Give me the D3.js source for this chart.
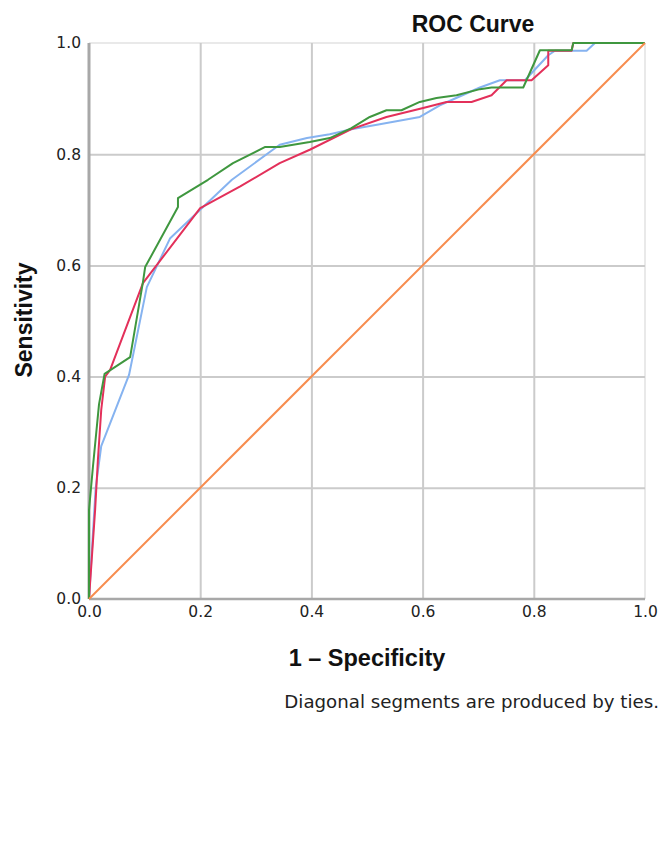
<!DOCTYPE html>
<html><head><meta charset="utf-8">
<script src="https://cdn.jsdelivr.net/npm/d3@7"></script>
<style>
html,body{margin:0;padding:0;background:#fff;}
svg{display:block;}
</style></head>
<body>
<svg id="chart" width="661" height="861"></svg>
<script>
// ---- Data ----
const ticks = [0.0, 0.2, 0.4, 0.6, 0.8, 1.0];
const tickLabels = ["0.0", "0.2", "0.4", "0.6", "0.8", "1.0"];

const blueX  = [0,0.012,0.022,0.072,0.104,0.146,0.200,0.257,0.343,0.392,0.433,0.472,0.523,0.595,0.631,0.703,0.739,0.784,0.826,0.838,0.895,0.910,1];
const blueY  = [0,0.200,0.275,0.403,0.561,0.649,0.700,0.754,0.817,0.829,0.836,0.845,0.854,0.867,0.888,0.920,0.933,0.933,0.978,0.986,0.986,1.000,1];

const redX   = [0,0.011,0.016,0.022,0.029,0.038,0.097,0.200,0.272,0.343,0.397,0.472,0.535,0.601,0.643,0.688,0.724,0.751,0.796,0.826,0.826,0.868,0.871,1];
const redY   = [0,0.160,0.250,0.340,0.400,0.412,0.568,0.703,0.742,0.784,0.808,0.845,0.867,0.883,0.894,0.894,0.906,0.933,0.933,0.960,0.986,0.986,1.000,1];

const greenX = [0,0.000,0.007,0.018,0.028,0.074,0.097,0.101,0.160,0.160,0.214,0.259,0.317,0.343,0.397,0.433,0.472,0.505,0.535,0.562,0.595,0.625,0.661,0.703,0.724,0.781,0.811,0.868,0.871,1];
const greenY = [0,0.160,0.237,0.350,0.405,0.435,0.570,0.597,0.705,0.721,0.754,0.784,0.813,0.813,0.822,0.829,0.847,0.867,0.879,0.879,0.894,0.901,0.906,0.917,0.920,0.920,0.987,0.987,1.000,1];

const refX = [0, 1];
const refY = [0, 1];

const seriesNames  = ["blue", "red", "green", "reference"];
const seriesColors = ["#86b3f0", "#e3305a", "#3f973f", "#f78c4e"];

// ---- Layout ----
const svg = d3.select("#chart");
const L = 89, T = 43, W = 556, H = 556;
const x = d3.scaleLinear().domain([0, 1]).range([L, L + W]);
const y = d3.scaleLinear().domain([0, 1]).range([T + H, T]);

// frame top/right
svg.append("line").attr("x1", L).attr("x2", L + W).attr("y1", T).attr("y2", T)
  .attr("stroke", "#e2e2e2").attr("stroke-width", 1.5);
svg.append("line").attr("x1", L + W).attr("x2", L + W).attr("y1", T).attr("y2", T + H)
  .attr("stroke", "#e2e2e2").attr("stroke-width", 1.5);

// gridlines
const gx = svg.append("g").attr("transform", `translate(0,${T + H})`)
  .call(d3.axisBottom(x).tickValues(ticks.slice(1, -1)).tickSize(-H).tickFormat(""));
gx.select(".domain").remove();
gx.selectAll("line").attr("stroke", "#cbcbcb").attr("stroke-width", 2);

const gy = svg.append("g").attr("transform", `translate(${L},0)`)
  .call(d3.axisLeft(y).tickValues(ticks.slice(1, -1)).tickSize(-W).tickFormat(""));
gy.select(".domain").remove();
gy.selectAll("line").attr("stroke", "#cbcbcb").attr("stroke-width", 2);

// axis lines
svg.append("line").attr("x1", L).attr("x2", L + W).attr("y1", T + H).attr("y2", T + H)
  .attr("stroke", "#a8a8a8").attr("stroke-width", 2.5);
svg.append("line").attr("x1", L).attr("x2", L).attr("y1", T).attr("y2", T + H)
  .attr("stroke", "#a8a8a8").attr("stroke-width", 3);

// tick labels
const xa = svg.append("g").attr("transform", `translate(0,${T + H})`)
  .call(d3.axisBottom(x).tickValues(ticks).tickSize(0).tickPadding(7)
    .tickFormat((d, i) => tickLabels[i]));
xa.select(".domain").remove();
xa.selectAll("text").attr("font-family", "DejaVu Sans").attr("font-size", 15.5).attr("fill", "#222");

const ya = svg.append("g").attr("transform", `translate(${L},0)`)
  .call(d3.axisLeft(y).tickValues(ticks).tickSize(0).tickPadding(8)
    .tickFormat((d, i) => tickLabels[i]));
ya.select(".domain").remove();
ya.selectAll("text").attr("font-family", "DejaVu Sans").attr("font-size", 15.5).attr("fill", "#222");

// curves
const line = d3.line().x(d => x(d[0])).y(d => y(d[1]));
const allSeries = [
  d3.zip(blueX, blueY),
  d3.zip(redX, redY),
  d3.zip(greenX, greenY),
  d3.zip(refX, refY)
];
allSeries.forEach((pts, i) => {
  svg.append("path").datum(pts).attr("class", "series-" + seriesNames[i])
    .attr("d", line).attr("fill", "none")
    .attr("stroke", seriesColors[i]).attr("stroke-width", 2)
    .attr("stroke-linejoin", "round");
});

// titles
svg.append("text").attr("x", 473).attr("y", 32).attr("text-anchor", "middle")
  .attr("font-family", "Liberation Sans").attr("font-weight", "bold").attr("font-size", 23)
  .attr("fill", "#111").text("ROC Curve");

svg.append("text").attr("x", 367).attr("y", 666).attr("text-anchor", "middle")
  .attr("font-family", "Liberation Sans").attr("font-weight", "bold").attr("font-size", 23.5)
  .attr("fill", "#111").text("1 – Specificity");

svg.append("text").attr("transform", "translate(32,320) rotate(-90)").attr("text-anchor", "middle")
  .attr("font-family", "Liberation Sans").attr("font-weight", "bold").attr("font-size", 23)
  .attr("fill", "#111").text("Sensitivity");

svg.append("text").attr("x", 659).attr("y", 708).attr("text-anchor", "end")
  .attr("font-family", "DejaVu Sans").attr("font-size", 18.2)
  .attr("fill", "#222").text("Diagonal segments are produced by ties.");
</script>
</body></html>
